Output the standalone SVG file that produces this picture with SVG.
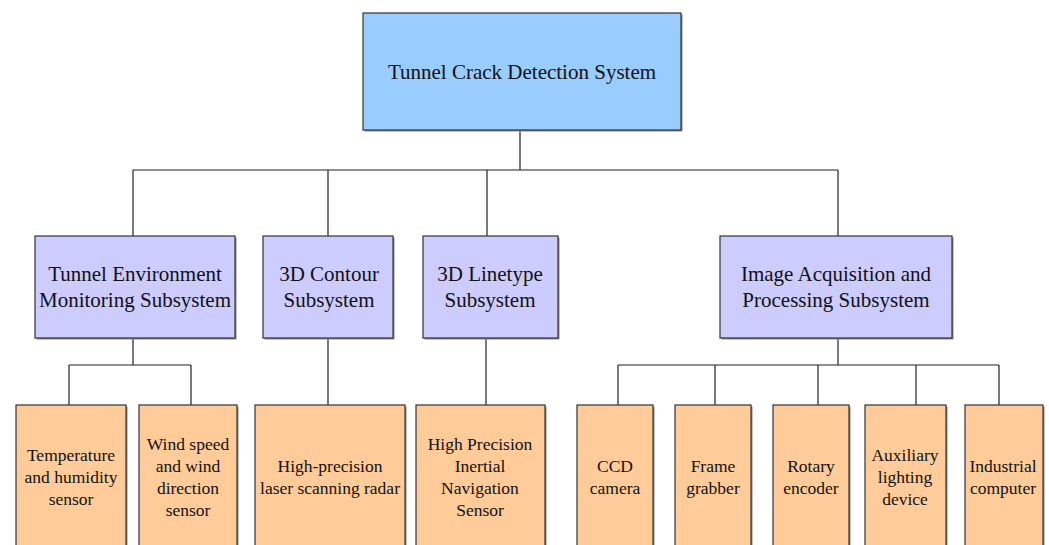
<svg xmlns="http://www.w3.org/2000/svg" width="1049" height="545" viewBox="0 0 1049 545" font-family="'Liberation Serif', 'Times New Roman', Times, serif">
  <style>
    .box { stroke: #333333; stroke-width: 1.2; }
    .shadow { fill: #8a8a8a; }
    .root { fill: #99ccff; }
    .sub { fill: #ccccff; }
    .leaf { fill: #ffcc99; }
    text { font-family: "Liberation Serif", "Times New Roman", Times, serif; fill: #111111; text-anchor: middle; }
    .t1 { font-size: 21px; }
    .t3 { font-size: 17.5px; }
    .wire { fill: none; stroke: #222222; stroke-width: 1.2; }
  </style>
  <rect width="1049" height="545" fill="#ffffff"/>

  <!-- connectors -->
  <g id="connectors">
    <path class="wire" d="M520 130 V170 M133 170 H838 M133 170 V236 M328 170 V236 M487 170 V236 M838 170 V236"/>
    <path class="wire" d="M133 338 V365 M69 365 H191 M69 365 V405 M191 365 V405"/>
    <path class="wire" d="M328 338 V405"/>
    <path class="wire" d="M486 338 V405"/>
    <path class="wire" d="M838 338 V365 M618 365 H999 M618 365 V405 M715 365 V405 M818 365 V405 M916 365 V405 M999 365 V405"/>
  </g>

  <!-- root -->
  <g id="root">
    <rect class="shadow" x="364.5" y="14.5" width="318" height="117"/>
    <rect class="box root" x="363" y="13" width="318" height="117"/>
    <text class="t1" x="522" y="79">Tunnel Crack Detection System</text>
  </g>

  <!-- subsystems -->
  <g id="sub-env">
    <rect class="shadow" x="36.5" y="237.5" width="200" height="102"/>
    <rect class="box sub" x="35" y="236" width="200" height="102"/>
    <text class="t1" x="135" y="281">Tunnel Environment</text>
    <text class="t1" x="135" y="307">Monitoring Subsystem</text>
  </g>
  <g id="sub-contour">
    <rect class="shadow" x="264.5" y="237.5" width="130" height="102"/>
    <rect class="box sub" x="263" y="236" width="130" height="102"/>
    <text class="t1" x="329" y="281">3D Contour</text>
    <text class="t1" x="329" y="307">Subsystem</text>
  </g>
  <g id="sub-linetype">
    <rect class="shadow" x="424.5" y="237.5" width="135" height="102"/>
    <rect class="box sub" x="423" y="236" width="135" height="102"/>
    <text class="t1" x="490" y="281">3D Linetype</text>
    <text class="t1" x="490" y="307">Subsystem</text>
  </g>
  <g id="sub-image">
    <rect class="shadow" x="721.5" y="237.5" width="232" height="102"/>
    <rect class="box sub" x="720" y="236" width="232" height="102"/>
    <text class="t1" x="836" y="281">Image Acquisition and</text>
    <text class="t1" x="836" y="307">Processing Subsystem</text>
  </g>

  <!-- components -->
  <g id="leaf-temp">
    <rect class="shadow" x="17.5" y="406.5" width="110" height="150"/>
    <rect class="box leaf" x="16" y="405" width="110" height="150"/>
    <text class="t3" x="71" y="461">Temperature</text>
    <text class="t3" x="71" y="483">and humidity</text>
    <text class="t3" x="71" y="505">sensor</text>
  </g>
  <g id="leaf-wind">
    <rect class="shadow" x="140.5" y="406.5" width="98" height="150"/>
    <rect class="box leaf" x="139" y="405" width="98" height="150"/>
    <text class="t3" x="188" y="450">Wind speed</text>
    <text class="t3" x="188" y="472">and wind</text>
    <text class="t3" x="188" y="494">direction</text>
    <text class="t3" x="188" y="516">sensor</text>
  </g>
  <g id="leaf-laser">
    <rect class="shadow" x="256.5" y="406.5" width="150" height="150"/>
    <rect class="box leaf" x="255" y="405" width="150" height="150"/>
    <text class="t3" x="330" y="472">High-precision</text>
    <text class="t3" x="330" y="494">laser scanning radar</text>
  </g>
  <g id="leaf-ins">
    <rect class="shadow" x="417.5" y="406.5" width="129" height="150"/>
    <rect class="box leaf" x="416" y="405" width="129" height="150"/>
    <text class="t3" x="480" y="450">High Precision</text>
    <text class="t3" x="480" y="472">Inertial</text>
    <text class="t3" x="480" y="494">Navigation</text>
    <text class="t3" x="480" y="516">Sensor</text>
  </g>
  <g id="leaf-ccd">
    <rect class="shadow" x="578.5" y="406.5" width="76" height="150"/>
    <rect class="box leaf" x="577" y="405" width="76" height="150"/>
    <text class="t3" x="615" y="472">CCD</text>
    <text class="t3" x="615" y="494">camera</text>
  </g>
  <g id="leaf-frame">
    <rect class="shadow" x="676.5" y="406.5" width="76" height="150"/>
    <rect class="box leaf" x="675" y="405" width="76" height="150"/>
    <text class="t3" x="713" y="472">Frame</text>
    <text class="t3" x="713" y="494">grabber</text>
  </g>
  <g id="leaf-rotary">
    <rect class="shadow" x="774.5" y="406.5" width="76" height="150"/>
    <rect class="box leaf" x="773" y="405" width="76" height="150"/>
    <text class="t3" x="811" y="472">Rotary</text>
    <text class="t3" x="811" y="494">encoder</text>
  </g>
  <g id="leaf-light">
    <rect class="shadow" x="866.5" y="406.5" width="81" height="150"/>
    <rect class="box leaf" x="865" y="405" width="81" height="150"/>
    <text class="t3" x="905" y="461">Auxiliary</text>
    <text class="t3" x="905" y="483">lighting</text>
    <text class="t3" x="905" y="505">device</text>
  </g>
  <g id="leaf-pc">
    <rect class="shadow" x="966.5" y="406.5" width="78" height="150"/>
    <rect class="box leaf" x="965" y="405" width="78" height="150"/>
    <text class="t3" x="1003" y="472">Industrial</text>
    <text class="t3" x="1003" y="494">computer</text>
  </g>
</svg>
